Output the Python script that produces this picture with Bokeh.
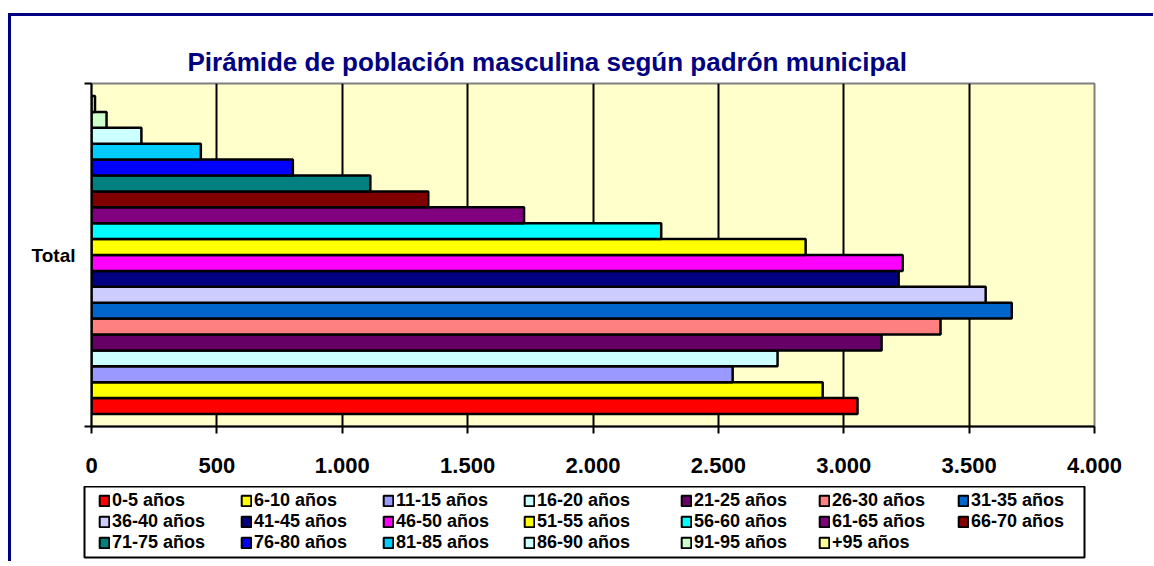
from bokeh.plotting import figure
from bokeh.layouts import column
from bokeh.models import (Range1d, FixedTicker, Legend, LegendItem,
                          ColumnDataSource, Title)
from bokeh.embed import file_html
from bokeh.resources import INLINE

# ---- data ----
category = "Total"
groups = ["0-5 años", "6-10 años", "11-15 años", "16-20 años", "21-25 años",
          "26-30 años", "31-35 años", "36-40 años", "41-45 años", "46-50 años",
          "51-55 años", "56-60 años", "61-65 años", "66-70 años", "71-75 años",
          "76-80 años", "81-85 años", "86-90 años", "91-95 años", "+95 años"]
values = [3055, 2916, 2557, 2736, 3151, 3386, 3670, 3566, 3219, 3235,
          2848, 2272, 1725, 1343, 1112, 803, 436, 199, 60, 14]
colors = ["#FF0000", "#FFFF00", "#9999FF", "#CCFFFF", "#660066",
          "#FF8080", "#0066CC", "#CCCCFF", "#000080", "#FF00FF",
          "#FFFF00", "#00FFFF", "#800080", "#800000", "#008080",
          "#0000FF", "#00CCFF", "#CCFFFF", "#CCFFCC", "#FFFF99"]
x_ticks = [0, 500, 1000, 1500, 2000, 2500, 3000, 3500, 4000]
title_text = "Pirámide de población masculina según padrón municipal"

FONT = "Liberation Sans"
n = len(groups)
pos = list(range(n))
margin = 0.785

src = ColumnDataSource(dict(y=pos, right=values, color=colors, label=groups))

# ---------------- main chart ----------------
p = figure(width=1142, height=470, output_backend="svg", toolbar_location=None,
           x_range=Range1d(0, 4000), y_range=Range1d(-0.5 - margin, n - 0.5 + margin),
           min_border_left=80, min_border_right=59, min_border_top=67,
           min_border_bottom=60, background_fill_color="#FFFFCC",
           border_fill_color="white", outline_line_color="#808080",
           outline_line_width=2)

p.title = Title(text=title_text, align="left", offset=96, standoff=13,
                text_font=FONT, text_font_style="bold", text_font_size="26px",
                text_color="#000080")

r = p.hbar(y="y", left=0, right="right", height=1, source=src,
           fill_color="color", line_color="black", line_width=2.5)

p.xaxis.ticker = FixedTicker(ticks=x_ticks)
p.xaxis.major_label_overrides = {t: f"{t:,}".replace(",", ".") for t in x_ticks}
p.xaxis.major_tick_out = 7
p.xaxis.major_tick_in = 0
p.xaxis.minor_tick_out = 0
p.xaxis.minor_tick_in = 0
p.xaxis.axis_line_width = 2
p.xaxis.major_tick_line_width = 2
p.xaxis.major_label_standoff = 24
p.xaxis.major_label_text_font = FONT
p.xaxis.major_label_text_font_style = "bold"
p.xaxis.major_label_text_font_size = "22px"
p.xaxis.major_label_text_color = "black"

lo, hi = p.y_range.start, p.y_range.end
mid = (lo + hi) / 2
p.yaxis.ticker = FixedTicker(ticks=[mid], minor_ticks=[lo, hi])
p.yaxis.major_label_overrides = {mid: category}
p.yaxis.major_tick_out = 0
p.yaxis.major_tick_in = 0
p.yaxis.minor_tick_out = 7
p.yaxis.minor_tick_in = 0
p.yaxis.minor_tick_line_color = "black"
p.yaxis.minor_tick_line_width = 2
p.yaxis.axis_line_width = 2
p.yaxis.major_label_standoff = 9
p.yaxis.major_label_text_font = FONT
p.yaxis.major_label_text_font_style = "bold"
p.yaxis.major_label_text_font_size = "19px"
p.yaxis.major_label_text_color = "black"

p.xgrid.ticker = FixedTicker(ticks=x_ticks[1:-1])
p.xgrid.grid_line_color = "black"
p.xgrid.grid_line_width = 2
p.ygrid.grid_line_color = None

# ---------------- legend panel ----------------
pl = figure(width=1142, height=75, output_backend="svg", toolbar_location=None,
            x_axis_type=None, y_axis_type=None,
            x_range=Range1d(0, 1), y_range=Range1d(0, 1),
            min_border_left=73, min_border_right=69, min_border_top=0,
            min_border_bottom=4, background_fill_color="white",
            border_fill_color="white", outline_line_color="black",
            outline_line_width=2)
rl = pl.hbar(y="y", left=0, right="right", height=1, source=src,
             fill_color="color", line_color="black", line_width=2,
             visible=False)

# legend grid placement (screen px inside the legend box)
col_x = [14, 156, 298, 439, 596, 734, 873]
row_y = [46, 25, 4]
ncols = len(col_x)
for i, g in enumerate(groups):
    lg = Legend(items=[LegendItem(label=g, renderers=[rl], index=i)],
                location=(col_x[i % ncols], row_y[i // ncols]),
                label_text_font=FONT, label_text_font_style="bold",
                label_text_font_size="18px", label_text_color="black",
                glyph_height=13, glyph_width=12, label_standoff=2,
                padding=0, margin=0, border_line_color=None,
                background_fill_alpha=0)
    pl.add_layout(lg)

layout = column(p, column(pl), spacing=0,
                styles={"margin-top": "13px", "margin-left": "8px",
                        "border-top": "3px solid #000080",
                        "border-left": "3px solid #000080"})

open("out.html", "w").write(file_html(layout, INLINE))
